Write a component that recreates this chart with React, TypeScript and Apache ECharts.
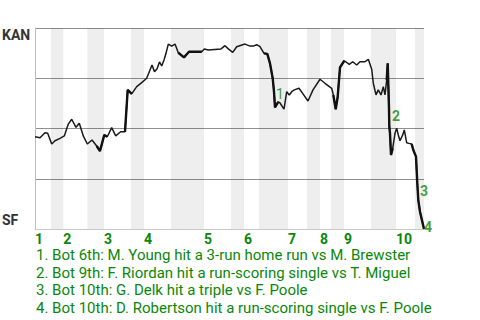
import React, { useEffect, useRef } from "react";
import * as echarts from "echarts";

// Game progress (plate-appearance scale) and KAN win probability (%)
const progress = [
  0, 5, 10, 12.7, 16.7, 20, 25, 29.3, 33.3, 36.7, 41, 44.3, 48.3, 52.3, 57, 61.7, 65, 69.3, 72.3, 76.7,
  80.7, 85.7, 90, 92.7, 96.7, 101.7, 106.7, 111.7, 117, 119.5, 122, 124.5, 126.7, 129, 131, 133.3, 136.7, 140, 143.3, 149,
  154, 166.7, 169.3, 173.3, 186, 190, 193.3, 197.7, 201.7, 210, 215, 218.3, 221.7, 225, 229, 232.3, 235, 237.7, 239, 240,
  243.3, 245, 249, 251.7, 254.3, 256.7, 259.3, 264, 268, 273, 278, 285, 290, 296.7, 298.3, 300.7, 302.7, 305, 309.3, 314.3,
  317.7, 321.7, 325, 330, 333.3, 336.7, 338.3, 341, 343.3, 346, 348.3, 350, 351.7, 352.7, 354, 354.3, 355, 356, 357.7, 360,
  361.7, 363.3, 365, 367.7, 369.3, 371.7, 374, 376.7, 378.3, 381, 382.3, 383.3, 385, 387.7, 389,
];
const kanWinPct = [
  45.9, 45.4, 47.9, 47.6, 42.3, 43.9, 45.1, 46.3, 52.2, 54.6, 50.6, 52.6, 46.3, 42.3, 44.3, 41.3, 38.8, 46.8, 45.9, 50.4,
  46.3, 48.4, 48.4, 69.2, 67.2, 70.8, 72.8, 75.0, 81.6, 78.3, 79.6, 83.1, 81.1, 84.1, 87.4, 92.0, 91.0, 92.0, 87.7, 85.4,
  88.2, 88.2, 89.6, 89.1, 89.6, 91.2, 89.6, 87.9, 90.7, 92.0, 91.0, 91.0, 91.7, 90.7, 87.4, 87.1, 82.4, 75.0, 68.3, 60.5,
  63.3, 62.7, 59.6, 68.3, 66.7, 68.3, 69.2, 70.0, 67.2, 63.7, 69.2, 74.5, 72.5, 70.0, 66.7, 59.6, 65.8, 80.4, 83.7, 81.9,
  83.2, 81.6, 83.2, 83.2, 84.4, 79.5, 72.5, 66.7, 69.2, 66.7, 70.8, 66.7, 74.1, 82.4, 60.0, 50.9, 47.6, 36.8, 40.1, 47.6,
  50.1, 46.8, 43.9, 46.8, 49.3, 42.9, 42.6, 42.3, 39.3, 36.0, 22.7, 14.4, 8.6, 2.8, 0,
];
// High-leverage stretches (point index ranges) drawn with a heavier stroke
const heavyRanges = [[15, 18], [22, 24], [38, 41], [54, 60], [74, 78], [92, 98], [107, 114]];

// Half-inning boundaries on the progress scale (top 1st starts at 0)
const halfInningEdges = [0, 16, 28.3, 52.3, 69, 96, 109, 136, 169, 196, 209, 224, 253, 272, 285, 296, 309, 336, 361, 380, 389];
const inningNames = ["1", "2", "3", "4", "5", "6", "7", "8", "9", "10"];

// Key events marked on the chart
const eventNames = ["1", "2", "3", "4"];
const eventX = [245, 361, 389, 393];
const eventY = [67.2, 56.2, 18.9, 1.0];

const notes = [
  "1. Bot 6th: M. Young hit a 3-run home run vs M. Brewster",
  "2. Bot 9th: F. Riordan hit a run-scoring single vs T. Miguel",
  "3. Bot 10th: G. Delk hit a triple vs F. Poole",
  "4. Bot 10th: D. Robertson hit a run-scoring single vs F. Poole",
];
const teamTop = "KAN";
const teamBottom = "SF";

const GREEN = "#0a870a";

export default function App() {
  const ref = useRef<HTMLDivElement>(null);
  useEffect(() => {
    if (!ref.current) return;
    const chart = echarts.init(ref.current, undefined, { renderer: "svg" });
    const inningStarts = inningNames.map((_, i) => halfInningEdges[i * 2]);
    const bands: any[] = [];
    for (let i = 0; i < inningNames.length; i++) {
      bands.push([{ xAxis: halfInningEdges[i * 2 + 1] }, { xAxis: halfInningEdges[i * 2 + 2] }]);
    }
    const xMax = halfInningEdges[halfInningEdges.length - 1];
    const heavySeries = heavyRanges.map(([a, b]) => ({
      type: "line",
      data: progress.slice(a, b + 1).map((x, k) => [x, kanWinPct[a + k]]),
      symbol: "none",
      lineStyle: { color: "#111", width: 2.4 },
      z: 3,
      silent: true,
    }));
    chart.setOption({
      animation: false,
      textStyle: { fontFamily: "Roboto" },
      grid: { left: 35, right: 56, top: 28, height: 201 },
      xAxis: {
        type: "value",
        min: 0,
        max: xMax,
        axisLine: { show: true, lineStyle: { color: "#c8c8c8", width: 1 } },
        axisTick: { show: false },
        splitLine: { show: false },
        axisLabel: {
          customValues: inningStarts,
          formatter: (v: number) => {
            const idx = inningStarts.findIndex((s) => Math.abs(s - v) < 0.01);
            return idx >= 0 ? inningNames[idx] : "";
          },
          align: "left",
          margin: 3,
          color: GREEN,
          fontWeight: "bold",
          fontSize: 14,
          fontFamily: "Roboto",
          hideOverlap: false,
        },
      },
      yAxis: {
        type: "value",
        min: 0,
        max: 100,
        interval: 25,
        axisLine: { show: true, lineStyle: { color: "#bdbdbd", width: 1 } },
        axisTick: { show: false },
        axisLabel: { show: false },
        splitLine: { show: true, lineStyle: { color: "#909090", width: 1 } },
      },
      graphic: [
        { type: "text", left: 2, top: 28, style: { text: teamTop, font: "bold 14px Roboto", fill: "#333" } },
        { type: "text", left: 2, top: 213, style: { text: teamBottom, font: "bold 14px Roboto", fill: "#333" } },
        {
          type: "text",
          left: 36,
          top: 246,
          style: { text: notes.join("\n"), font: "15px Roboto", fill: GREEN, lineHeight: 17.7 },
        },
      ],
      series: [
        {
          type: "line",
          data: progress.map((x, i) => [x, kanWinPct[i]]),
          symbol: "none",
          lineStyle: { color: "#1a1a1a", width: 1.5 },
          z: 3,
          markArea: {
            silent: true,
            itemStyle: { color: "rgba(0,0,0,0.068)" },
            data: bands,
          },
        },
        ...heavySeries,
        {
          type: "scatter",
          clip: false,
          symbolSize: 0,
          z: 4,
          data: eventNames.map((n, i) => ({
            name: n,
            value: [eventX[i], eventY[i]],
            label: { fontWeight: i === 0 ? "normal" : "bold" },
          })),
          label: {
            show: true,
            position: "inside",
            formatter: "{b}",
            color: GREEN,
            fontSize: 14,
            fontWeight: "bold",
            fontFamily: "Roboto",
          },
        },
      ],
    });
    return () => chart.dispose();
  }, []);
  return <div ref={ref} style={{ width: 480, height: 320, position: "absolute", left: 0, top: 0 }} />;
}
